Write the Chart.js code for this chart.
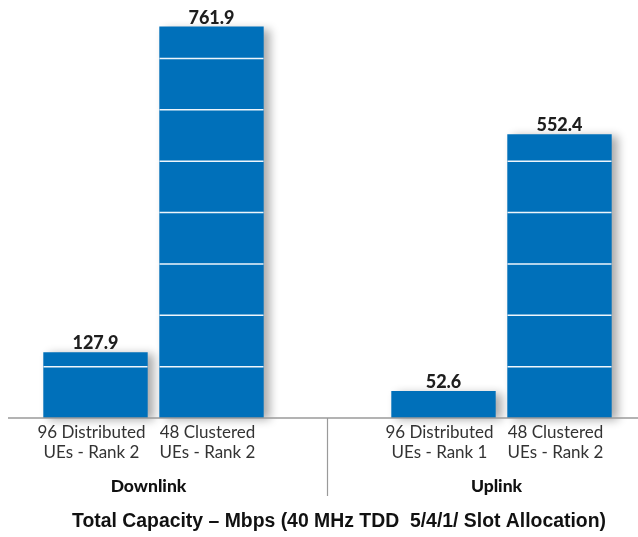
<!DOCTYPE html>
<html>
<head>
<meta charset="utf-8">
<script src="https://cdn.jsdelivr.net/npm/chart.js@4"></script>
<style>
  html, body { margin: 0; padding: 0; background: #fff; }
  #wrap { width: 638px; height: 537px; position: relative; }
</style>
</head>
<body>
<div id="wrap"><canvas id="capacityChart"></canvas></div>
<script>
const categories = [
  ['96 Distributed', 'UEs - Rank 2'],
  ['48 Clustered', 'UEs - Rank 2'],
  '',
  ['96 Distributed', 'UEs - Rank 1'],
  ['48 Clustered', 'UEs - Rank 2']
];
const capacity = [127.9, 761.9, null, 52.6, 552.4];
const groups = ['Downlink', 'Uplink'];
const groupMembers = [[0, 1], [3, 4]];
const title = 'Total Capacity \u2013 Mbps (40 MHz TDD  5/4/1/ Slot Allocation)';

const narrow = 'Lato, "Liberation Sans", Arial, sans-serif';
const wide = '"Liberation Sans", Arial, sans-serif';
const barBlue = '#0070ba';

const decor = {
  id: 'decor',
  beforeDatasetsDraw(chart) {
    const ctx = chart.ctx;
    ctx.save();
    ctx.shadowColor = 'rgba(0, 0, 0, 0.33)';
    ctx.shadowBlur = 9;
    ctx.shadowOffsetX = 6;
    ctx.shadowOffsetY = 2;
  },
  afterDatasetsDraw(chart) {
    const ctx = chart.ctx;
    ctx.restore();
    const y = chart.scales.y;
    const x = chart.scales.x;
    const meta = chart.getDatasetMeta(0);

    // white gridlines, only inside the bars
    meta.data.forEach((bar, i) => {
      if (capacity[i] == null) return;
      const p = bar.getProps(['x', 'y', 'base', 'width'], true);
      ctx.save();
      ctx.beginPath();
      ctx.rect(p.x - p.width / 2, p.y, p.width, p.base - p.y);
      ctx.clip();
      ctx.strokeStyle = '#eef5fb';
      ctx.lineWidth = 1.5;
      y.ticks.forEach((t) => {
        if (t.value <= 0) return;
        const py = y.getPixelForValue(t.value);
        ctx.beginPath();
        ctx.moveTo(p.x - p.width / 2, py);
        ctx.lineTo(p.x + p.width / 2, py);
        ctx.stroke();
      });
      ctx.restore();

      // value label
      ctx.save();
      ctx.fillStyle = '#1e1e1e';
      ctx.font = `900 18px ${narrow}`;
      ctx.textAlign = 'center';
      ctx.textBaseline = 'alphabetic';
      ctx.fillText(capacity[i].toFixed(1), p.x, p.y - 3);
      ctx.restore();
    });

    // baseline and separator
    const base = y.getPixelForValue(0);
    ctx.save();
    ctx.strokeStyle = '#9a9a9a';
    ctx.lineWidth = 1.5;
    ctx.beginPath();
    ctx.moveTo(8, base);
    ctx.lineTo(chart.width, base);
    ctx.stroke();
    const sep = x.getPixelForValue(2);
    ctx.lineWidth = 1.2;
    ctx.beginPath();
    ctx.moveTo(sep, base);
    ctx.lineTo(sep, base + 78);
    ctx.stroke();

    // group labels
    ctx.fillStyle = '#111';
    ctx.font = `900 17.5px ${narrow}`;
    ctx.textAlign = 'center';
    ctx.textBaseline = 'middle';
    groups.forEach((g, k) => {
      const [a, b] = groupMembers[k];
      const cx = (x.getPixelForValue(a) + x.getPixelForValue(b)) / 2 - 5;
      ctx.fillText(g, cx, base + 68);
    });

    // bottom title
    ctx.font = `bold 19.4px ${wide}`;
    ctx.fillText(title, 339, base + 104);
    ctx.restore();
  }
};

new Chart(document.getElementById('capacityChart'), {
  type: 'bar',
  data: {
    labels: categories,
    datasets: [{
      data: capacity,
      backgroundColor: barBlue,
      borderWidth: 0,
      categoryPercentage: 1,
      barPercentage: 0.9,
      clip: false
    }]
  },
  options: {
    responsive: true,
    maintainAspectRatio: false,
    animation: false,
    layout: { padding: { top: 7, left: 37.5, right: 20.5, bottom: 0 } },
    plugins: { legend: { display: false }, tooltip: { enabled: false } },
    scales: {
      x: {
        grid: { display: false, drawTicks: false },
        border: { display: false },
        ticks: {
          color: '#333',
          padding: 5,
          labelOffset: -4,
          maxRotation: 0,
          autoSkip: false,
          font: { family: narrow, size: 17, lineHeight: 20 / 17 }
        },
        afterFit(scale) { scale.height = 119; }
      },
      y: {
        display: false,
        min: 0,
        max: 800,
        ticks: { stepSize: 100 }
      }
    }
  },
  plugins: [decor]
});
</script>
</body>
</html>
